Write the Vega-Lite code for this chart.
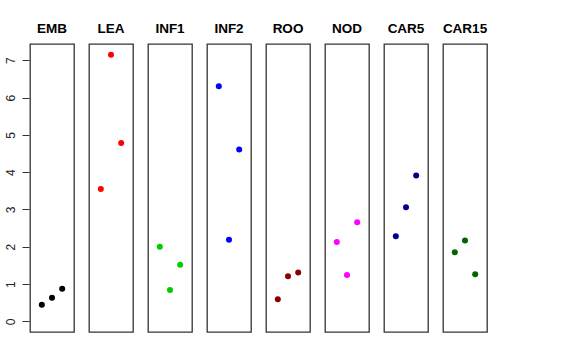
{
  "$schema": "https://vega.github.io/schema/vega-lite/v6.json",
  "background": "white",
  "padding": {"left": 0, "top": 21, "right": 5, "bottom": 5},
  "data": {"values": [
    {"panel": "EMB", "x": 1, "y": 0.447},
    {"panel": "EMB", "x": 2, "y": 0.635},
    {"panel": "EMB", "x": 3, "y": 0.876},
    {"panel": "LEA", "x": 1, "y": 3.55},
    {"panel": "LEA", "x": 2, "y": 7.15},
    {"panel": "LEA", "x": 3, "y": 4.78},
    {"panel": "INF1", "x": 1, "y": 2.0},
    {"panel": "INF1", "x": 2, "y": 0.84},
    {"panel": "INF1", "x": 3, "y": 1.52},
    {"panel": "INF2", "x": 1, "y": 6.3},
    {"panel": "INF2", "x": 2, "y": 2.19},
    {"panel": "INF2", "x": 3, "y": 4.61},
    {"panel": "ROO", "x": 1, "y": 0.59},
    {"panel": "ROO", "x": 2, "y": 1.21},
    {"panel": "ROO", "x": 3, "y": 1.31},
    {"panel": "NOD", "x": 1, "y": 2.13},
    {"panel": "NOD", "x": 2, "y": 1.24},
    {"panel": "NOD", "x": 3, "y": 2.66},
    {"panel": "CAR5", "x": 1, "y": 2.28},
    {"panel": "CAR5", "x": 2, "y": 3.06},
    {"panel": "CAR5", "x": 3, "y": 3.91},
    {"panel": "CAR15", "x": 1, "y": 1.85},
    {"panel": "CAR15", "x": 2, "y": 2.17},
    {"panel": "CAR15", "x": 3, "y": 1.26}
  ]},
  "facet": {
    "column": {
      "field": "panel",
      "type": "nominal",
      "sort": ["EMB", "LEA", "INF1", "INF2", "ROO", "NOD", "CAR5", "CAR15"],
      "header": {
        "title": null,
        "labelFont": "Liberation Sans",
        "labelFontSize": 13.5,
        "labelFontWeight": "bold",
        "labelColor": "black",
        "labelPadding": 8
      }
    }
  },
  "spacing": 13,
  "spec": {
    "width": 44,
    "height": 288,
    "mark": {"type": "circle", "size": 36, "opacity": 1},
    "encoding": {
      "x": {"field": "x", "type": "quantitative", "scale": {"domain": [-0.16, 4.16], "nice": false, "zero": false}, "axis": null},
      "y": {
        "field": "y",
        "type": "quantitative",
        "scale": {"domain": [-0.286, 7.436], "nice": false, "zero": false},
        "axis": {
          "title": null,
          "grid": false,
          "domain": false,
          "values": [0, 1, 2, 3, 4, 5, 6, 7],
          "tickSize": 7,
          "tickColor": "#333",
          "labelAngle": -90,
          "labelAlign": "center",
          "labelBaseline": "bottom",
          "labelPadding": 5,
          "labelFont": "Liberation Sans",
          "labelFontSize": 12,
          "labelColor": "#222",
          "minExtent": 29,
          "maxExtent": 29
        }
      },
      "color": {
        "field": "panel",
        "type": "nominal",
        "scale": {
          "domain": ["EMB", "LEA", "INF1", "INF2", "ROO", "NOD", "CAR5", "CAR15"],
          "range": ["#000000", "#FF0000", "#00CD00", "#0000FF", "#8B0000", "#FF00FF", "#00008B", "#006400"]
        },
        "legend": null
      }
    }
  },
  "config": {
    "view": {"stroke": "#333", "strokeWidth": 1.3, "fill": "white"}
  }
}
